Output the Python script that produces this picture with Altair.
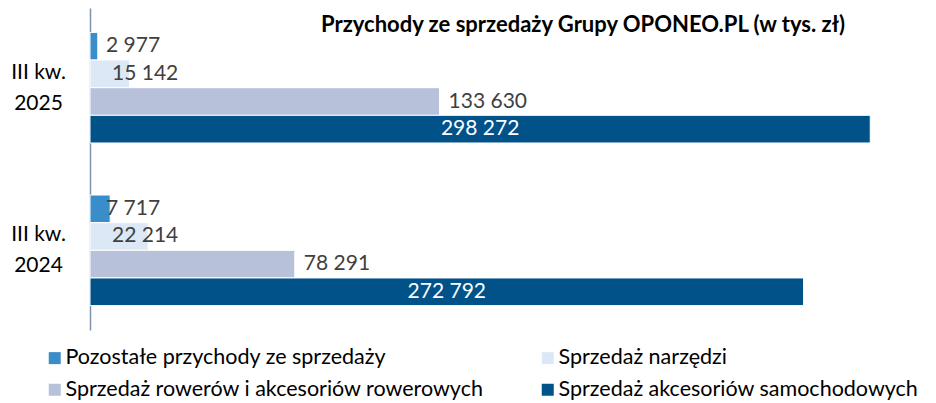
import altair as alt
import pandas as pd

quarters = ["III kw. 2025", "III kw. 2024"]
series = [
    "Pozostałe przychody ze sprzedaży",
    "Sprzedaż narzędzi",
    "Sprzedaż rowerów i akcesoriów rowerowych",
    "Sprzedaż akcesoriów samochodowych",
]
values_2025 = [2977, 15142, 133630, 298272]
values_2024 = [7717, 22214, 78291, 272792]
colors = ["#3A8DCB", "#DCE8F5", "#B7C2DA", "#02528A"]
title_text = "Przychody ze sprzedaży Grupy OPONEO.PL (w tys. zł)"

rows = []
for q, vals in zip(quarters, [values_2025, values_2024]):
    for s, v in zip(series, vals):
        rows.append({"quarter": q, "series": s, "value": v})
df = pd.DataFrame(rows)

FONT = "Lato"

y_enc = alt.Y(
    "quarter:N",
    sort=quarters,
    scale=alt.Scale(paddingInner=0.32, paddingOuter=0.15),
    axis=alt.Axis(
        title=None,
        ticks=False,
        grid=False,
        domainColor="#7F93AA",
        domainWidth=1.5,
        labelExpr="[slice(datum.label, 0, 7), slice(datum.label, 8)]",
        labelAlign="center",
        labelBaseline="middle",
        labelOffset=-15,
        labelPadding=52,
        labelFont=FONT,
        labelFontSize=21,
        labelColor="#000000",
        labelLineHeight=31,
    ),
)
yoff_enc = alt.YOffset("series:N", sort=series, scale=alt.Scale(paddingInner=0, paddingOuter=0))
x_scale = alt.Scale(domain=[0, 315000])

base = alt.Chart(df)

bars = base.mark_bar(stroke="white", strokeWidth=1).encode(
    x=alt.X("value:Q", scale=x_scale, axis=None),
    y=y_enc,
    yOffset=yoff_enc,
    color=alt.Color(
        "series:N",
        sort=series,
        scale=alt.Scale(domain=series, range=colors),
        legend=alt.Legend(
            title=None,
            orient="none",
            direction="horizontal",
            legendX=-46,
            legendY=339,
            columns=2,
            columnPadding=53,
            rowPadding=9,
            symbolType="square",
            symbolSize=144,
            symbolStrokeWidth=0,
            labelFont=FONT,
            labelFontSize=21.5,
            labelColor="#000000",
            labelOffset=0,
            labelLimit=0,
        ),
    ),
)

lab = base.transform_calculate(
    label="replace(format(datum.value, ','), ',', ' ')",
    mid="datum.value / 2",
)

txt_kw = dict(font=FONT, fontSize=21, baseline="middle")

t1 = lab.transform_filter(alt.datum.series == series[0]).mark_text(
    align="left", dx=16, color="#404040", **txt_kw
).encode(x=alt.datum(0, scale=x_scale, axis=None), y=y_enc, yOffset=yoff_enc, text="label:N")

t2 = lab.transform_filter(alt.datum.series == series[1]).mark_text(
    align="left", dx=22, color="#404040", **txt_kw
).encode(x=alt.datum(0, scale=x_scale, axis=None), y=y_enc, yOffset=yoff_enc, text="label:N")

t3 = lab.transform_filter(alt.datum.series == series[2]).mark_text(
    align="left", dx=9, color="#404040", **txt_kw
).encode(x=alt.X("value:Q", scale=x_scale, axis=None), y=y_enc, yOffset=yoff_enc, text="label:N")

t4 = lab.transform_filter(alt.datum.series == series[3]).mark_text(
    align="center", color="#FFFFFF", **txt_kw
).encode(x=alt.X("mid:Q", scale=x_scale, axis=None), y=y_enc, yOffset=yoff_enc, text="label:N")

title_mark = alt.Chart(pd.DataFrame({"t": [title_text]})).mark_text(
    font=FONT, fontSize=22, fontWeight="bold", color="#000000",
    align="center", baseline="alphabetic",
).encode(text="t:N", x=alt.value(493), y=alt.value(24))

chart = (
    alt.layer(bars, t1, t2, t3, t4, title_mark)
    .properties(
        width=824,
        height=322,
        padding={"left": 82, "top": 0, "right": 10, "bottom": 70},
        autosize=alt.AutoSizeParams(type="none"),
        view=alt.ViewBackground(stroke="transparent", strokeWidth=0),
    )
    .configure_view(stroke="transparent", strokeWidth=0, strokeOpacity=0)
    .configure_axisX(grid=False, domain=False)
    .configure(background="white", style={"cell": {"stroke": "transparent", "strokeWidth": 0}})
)

chart.save("out.html", embed_options={"renderer": "svg", "actions": False})
